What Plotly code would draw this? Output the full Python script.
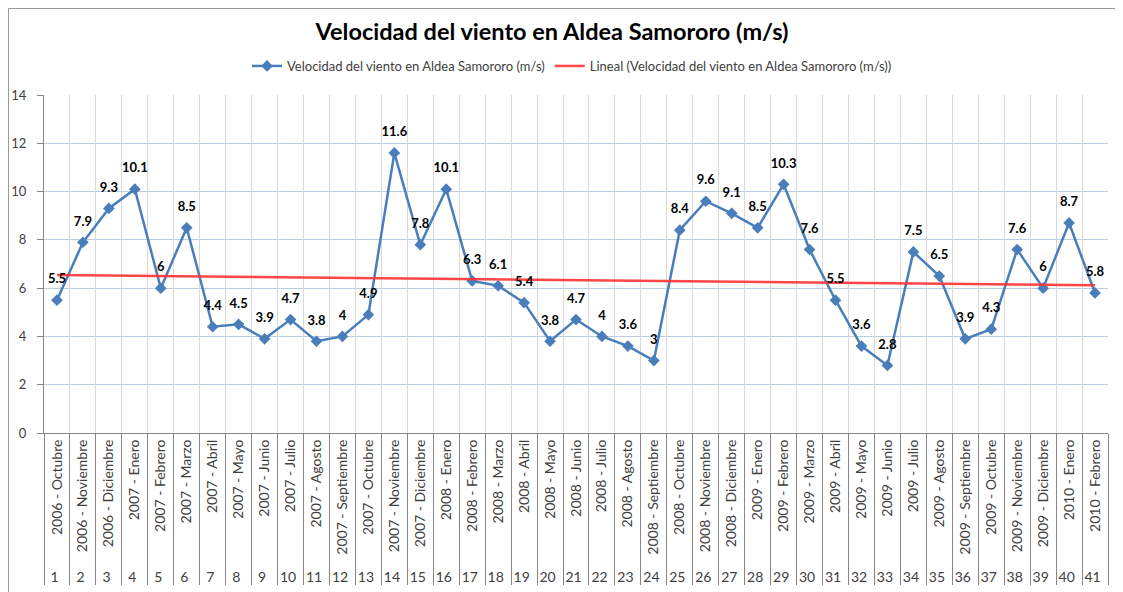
# Velocidad del viento en Aldea Samororo - line chart with linear trend
import plotly.graph_objects as go
import numpy as np

meses = ["2006 - Octubre", "2006 - Noviembre", "2006 - Diciembre",
         "2007 - Enero", "2007 - Febrero", "2007 - Marzo", "2007 - Abril",
         "2007 - Mayo", "2007 - Junio", "2007 - Julio", "2007 - Agosto",
         "2007 - Septiembre", "2007 - Octubre", "2007 - Noviembre", "2007 - Diciembre",
         "2008 - Enero", "2008 - Febrero", "2008 - Marzo", "2008 - Abril",
         "2008 - Mayo", "2008 - Junio", "2008 - Julio", "2008 - Agosto",
         "2008 - Septiembre", "2008 - Octubre", "2008 - Noviembre", "2008 - Diciembre",
         "2009 - Enero", "2009 - Febrero", "2009 - Marzo", "2009 - Abril",
         "2009 - Mayo", "2009 - Junio", "2009 - Julio", "2009 - Agosto",
         "2009 - Septiembre", "2009 - Octubre", "2009 - Noviembre", "2009 - Diciembre",
         "2010 - Enero", "2010 - Febrero"]
numeros = [str(i) for i in range(1, 42)]
velocidad = [5.5, 7.9, 9.3, 10.1, 6, 8.5, 4.4, 4.5, 3.9, 4.7, 3.8, 4, 4.9, 11.6,
             7.8, 10.1, 6.3, 6.1, 5.4, 3.8, 4.7, 4, 3.6, 3, 8.4, 9.6, 9.1, 8.5,
             10.3, 7.6, 5.5, 3.6, 2.8, 7.5, 6.5, 3.9, 4.3, 7.6, 6, 8.7, 5.8]

serie = "Velocidad del viento en Aldea Samororo (m/s)"

# linear trendline like excel
idx = np.arange(1, len(velocidad) + 1)
m, b = np.polyfit(idx, velocidad, 1)
tendencia = m * idx + b

x_multi = [numeros, meses]

trace1 = go.Scatter(x=x_multi, y=velocidad, mode="lines+markers",
                    name=serie, legendrank=1,
                    line=dict(color="#4A7EBB", width=2.5),
                    marker=dict(symbol="diamond", size=9, color="#4A7EBB"))
trace2 = go.Scatter(x=x_multi, y=tendencia, mode="lines",
                    name="Lineal (" + serie + ")", legendrank=2,
                    line=dict(color="rgba(255,50,50,0.9)", width=2.5))
# data labels on top of everything (invisible big marker pushes text up)
trace_lbl = go.Scatter(x=x_multi, y=velocidad, mode="markers+text", showlegend=False,
                       text=[str(v) for v in velocidad],
                       textposition="top center",
                       marker=dict(size=20, opacity=0),
                       textfont=dict(family="Lato", size=13, color="#000000", weight="bold"),
                       cliponaxis=False, hoverinfo="skip")
# invisible helper for the boundary gridlines
trace3 = go.Scatter(x=[1, 41], y=[0, 0], xaxis="x2", mode="markers",
                    marker=dict(opacity=0), showlegend=False, hoverinfo="skip")

# page is offset 8px by the body margin, so positions here are page - 8
W, H = 1115, 584
L, R, T, B = 36, 15, 87, 159
pw = W - L - R
ph = H - T - B

layout = go.Layout(
    width=W, height=H,
    margin=dict(l=L, r=R, t=T, b=B, autoexpand=False),
    paper_bgcolor="white", plot_bgcolor="white",
    font=dict(family="Lato", color="#404040"),
    title=dict(text="<b>Velocidad del viento en Aldea Samororo (m/s)</b>",
               x=544 / W, xref="container", xanchor="center",
               y=1 - 24 / H, yanchor="middle",
               font=dict(family="Lato", size=23.5, color="#000000")),
    legend=dict(orientation="h", x=(572 - 8 - L) / pw, xanchor="center",
                y=1 + (T - 58) / ph,
                yanchor="middle", font=dict(family="Lato", size=13, color="#404040"),
                itemwidth=30, tracegroupgap=0, traceorder="normal"),
    xaxis=dict(type="multicategory", tickangle=-90, range=[-0.5, 40.5],
               showgrid=True, gridcolor="#D9D9D9", gridwidth=1,
               showline=True, linecolor="#868686", mirror=False,
               showdividers=True, dividercolor="#868686", dividerwidth=1,
               ticks="", tickfont=dict(family="Lato", size=14, color="#404040"),
               automargin=False),
    xaxis2=dict(overlaying="x", range=[0.5, 41.5], tick0=0.5, dtick=1,
                showgrid=True, gridcolor="#D9D9D9", gridwidth=1,
                showticklabels=False, zeroline=False, ticks="", side="bottom"),
    yaxis=dict(range=[0, 14], dtick=2, showgrid=True, gridcolor="#B9CDE5",
               gridwidth=1, showline=True, linecolor="#868686",
               ticks="outside", tickcolor="#868686", ticklen=6,
               ticklabelstandoff=8,
               zeroline=False, tickfont=dict(family="Lato", size=13, color="#404040"),
               automargin=False),
    shapes=[dict(type="rect", xref="paper", yref="paper",
                 x0=-(L - 0.5) / pw, x1=1 + (R - 5.5) / pw,
                 y0=-(B + 10) / ph, y1=1 + (T - 0.5) / ph,
                 line=dict(color="#9A9A9A", width=1), layer="below")],
)

fig = go.Figure(data=[trace3, trace1, trace2, trace_lbl], layout=layout)
fig.write_html("out.html")
